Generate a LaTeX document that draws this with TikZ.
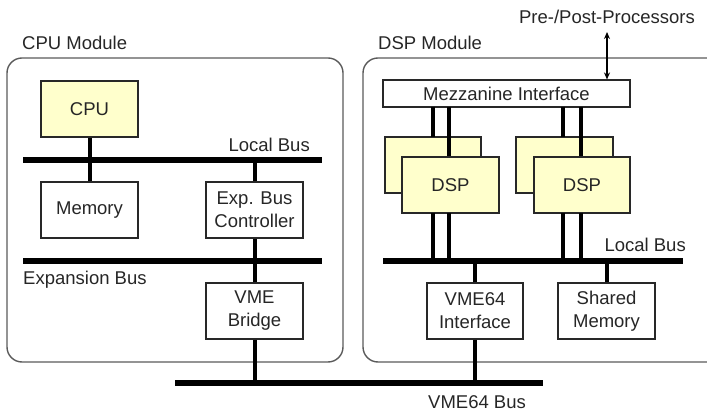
\documentclass[tikz,border=0pt]{standalone}
\usepackage{fontspec}
\setmainfont{Liberation Sans}
\usetikzlibrary{arrows.meta}
\definecolor{chipyellow}{RGB}{255,255,204}
\definecolor{boxline}{RGB}{40,40,40}
\definecolor{modline}{RGB}{90,90,90}
\begin{document}
\begin{tikzpicture}[x=1pt,y=-1pt,
  every node/.style={font=\fontsize{18.5}{23}\selectfont, text=black!85},
  blk/.style={draw=boxline, line width=1.1pt, fill=white, minimum width=97pt, minimum height=56pt, inner sep=0pt, align=center},
  chip/.style={blk, fill=chipyellow},
  bus/.style={line width=6pt},
  wire/.style={line width=4pt},
  module/.style={draw=modline, line width=1.4pt, rounded corners=15pt},
  lbl/.style={inner sep=0pt}]
\useasboundingbox (0,0) rectangle (707,411);
\clip (0,0) rectangle (707,411);

% modules
\draw[module] (7,58) rectangle (343,362);
\draw[module] (363,58) rectangle (722,362);
\node[lbl, anchor=west] (cpumod) at (22,43) {CPU Module};
\node[lbl, anchor=west] (dspmod) at (378,43) {DSP Module};

% bus coordinates
\coordinate (lbA) at (23,160);  \coordinate (lbB) at (322,160);
\coordinate (ebA) at (23,261);  \coordinate (ebB) at (322,261);
\coordinate (dbA) at (383,261); \coordinate (dbB) at (683,261);
\coordinate (vbA) at (175,383); \coordinate (vbB) at (543,383);

% CPU module blocks
\node[chip] (cpu) at (89.5,109) {CPU};
\node[blk] (mem) at (89.5,210) {Memory};
\node[blk] (ebc) at (254.5,210) {Exp. Bus\\Controller};
\node[blk] (vmeb) at (254.5,311) {VME\\Bridge};

% connectors CPU
\draw[wire] (cpu.south) -- (cpu.south |- lbA);
\draw[wire] (mem.north) -- (mem.north |- lbA);
\draw[wire] (ebc.north) -- (ebc.north |- lbA);
\draw[wire] (ebc.south) -- (vmeb.north);
\draw[wire] (vmeb.south) -- (vmeb.south |- vbA);

% DSP module blocks
\node[blk, minimum width=247pt, minimum height=27pt] (mezz) at (506.5,93.5) {Mezzanine Interface};
\coordinate (pp) at (607,32);
\node[lbl] (pptext) at (607,17) {Pre-/Post-Processors};
\draw[line width=2.2pt, {Stealth[length=7pt,width=6pt]}-{Stealth[length=7pt,width=6pt]}] (pp) -- (pp |- mezz.north);

\node[chip, minimum width=96pt] (dspb1) at (433,165) {};
\node[chip, minimum width=97pt] (dspb2) at (564.5,165) {};
% upper wires to back chips
\draw[wire] (433,107) -- (433,137);
\draw[wire] (563,107) -- (563,137);
\draw[wire] (449,107) -- (449,157);
\draw[wire] (581,107) -- (581,157);
\node[chip] (dsp1) at (450.5,185) {DSP};
\node[chip, minimum width=96pt] (dsp2) at (582,185) {DSP};
% lower wires
\draw[wire] (433,213) -- (433,261);
\draw[wire] (449,213) -- (449,261);
\draw[wire] (563,213) -- (563,261);
\draw[wire] (581,213) -- (581,261);

\node[blk, minimum width=96pt] (vif) at (475,311) {VME64\\Interface};
\node[blk] (smem) at (606.5,311) {Shared\\Memory};
\draw[wire] (vif.north) -- (vif.north |- dbA);
\draw[wire] (vif.south) -- (vif.south |- vbA);
\draw[wire] (smem.north) -- (smem.north |- dbA);

% buses
\draw[bus] (lbA) -- (lbB);
\draw[bus] (ebA) -- (ebB);
\draw[bus] (dbA) -- (dbB);
\draw[bus] (vbA) -- (vbB);

% bus labels
\node[lbl, anchor=east] (lbl1) at (310,145) {Local Bus};
\node[lbl, anchor=west] (lbl2) at (23,280) {Expansion Bus};
\node[lbl, anchor=east] (lbl3) at (686,245) {Local Bus};
\node[lbl] (lbl4) at (477,402) {VME64 Bus};
\end{tikzpicture}
\end{document}
